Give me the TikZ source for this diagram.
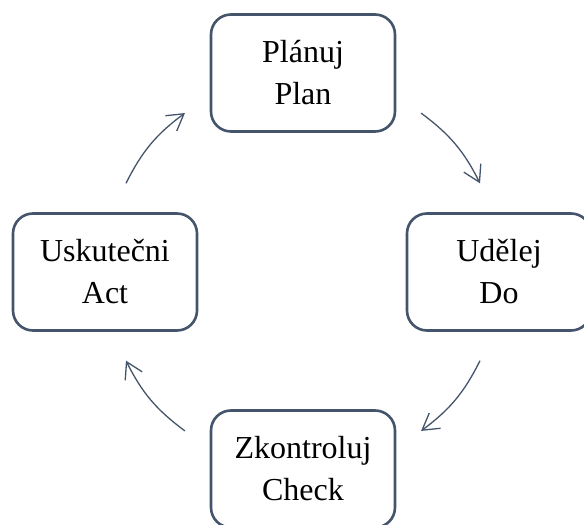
\documentclass[tikz,border=0pt]{standalone}
\usepackage{fontspec}
\setmainfont{Liberation Serif}
\usetikzlibrary{arrows.meta}
\definecolor{slate}{HTML}{44546A}
\begin{document}
\begin{tikzpicture}[x=1pt,y=1pt,
  phase/.style={draw=slate, line width=2.6pt, rounded corners=20pt, fill=white,
    minimum width=184pt, minimum height=117pt, align=center,
    font=\fontsize{32pt}{42pt}\selectfont, text=black, inner sep=0pt},
  cycle/.style={draw=slate, line width=1.3pt,
    -{Straight Barb[length=16pt, width=19pt, line width=1.3pt]}}]
  \useasboundingbox (0,0) rectangle (584,525);
  \clip (0,0) rectangle (584,525);

  % the four PDCA phases
  \node[phase] (plan)  at (303,452) {Plánuj\\Plan};
  \node[phase] (do)    at (499,253) {Udělej\\Do};
  \node[phase] (check) at (303,56)  {Zkontroluj\\Check};
  \node[phase] (act)   at (105,253) {Uskutečni\\Act};

  % points on the circle that the cycle arrows follow
  \coordinate (hub) at (303,253);
  \coordinate (a1) at ([shift={(53.4:198pt)}]hub);
  \coordinate (b1) at ([shift={(26.6:198pt)}]hub);
  \coordinate (a2) at ([shift={(-26.6:198pt)}]hub);
  \coordinate (b2) at ([shift={(-53.4:198pt)}]hub);
  \coordinate (a3) at ([shift={(-126.6:198pt)}]hub);
  \coordinate (b3) at ([shift={(-153.4:198pt)}]hub);
  \coordinate (a4) at ([shift={(153.4:198pt)}]hub);
  \coordinate (b4) at ([shift={(126.6:198pt)}]hub);

  % clockwise cycle arrows
  \draw[cycle] (a1) to[bend left=13.4] (b1);
  \draw[cycle] (a2) to[bend left=13.4] (b2);
  \draw[cycle] (a3) to[bend left=13.4] (b3);
  \draw[cycle] (a4) to[bend left=13.4] (b4);
\end{tikzpicture}
\end{document}
